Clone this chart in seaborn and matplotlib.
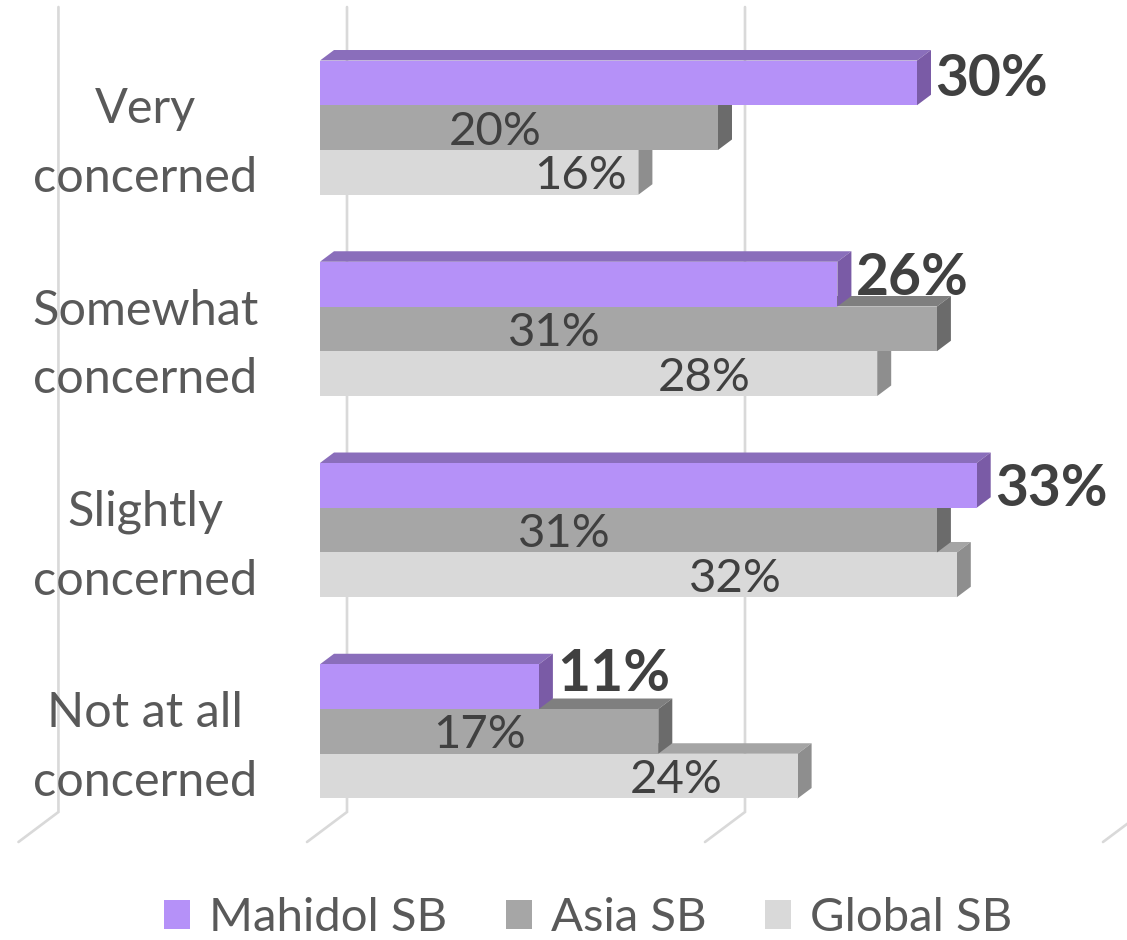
import numpy as np
import pandas as pd
import matplotlib
matplotlib.use("Agg")
import matplotlib.pyplot as plt
import matplotlib.transforms as mtransforms
from matplotlib.patches import Polygon, Patch
from matplotlib.lines import Line2D
import seaborn as sns

# ---- data -------------------------------------------------------------
categories = ["Very concerned", "Somewhat concerned",
              "Slightly concerned", "Not at all concerned"]
series = ["Mahidol SB", "Asia SB", "Global SB"]
mahidol = [30, 26, 33, 11]
asia = [20, 31, 31, 17]
global_sb = [16, 28, 32, 24]

# ---- styling / layout ---------------------------------------------------
front_colors = ["#B591F8", "#A6A6A6", "#D9D9D9"]
top_colors = ["#8A6EBB", "#7F7F7F", "#A5A5A5"]
side_colors = ["#7A5BA6", "#6B6B6B", "#8E8E8E"]
label_color = "#595959"
value_color = "#404040"
grid_color = "#D9D9D9"

# centres (in axis units) of the plain value labels for Asia / Global
asia_label_pos = [8.8, 11.8, 12.3, 8.0]
global_label_pos = [13.1, 19.3, 20.85, 17.9]
# vertical nudge (pixels, + is up) of the bold Mahidol labels
mahidol_label_nudge = [7, 9, -1, 16]

DPI = 100
W, H = 1127, 940
BAR_DX, BAR_DY = 14, 10.5          # bar depth (pixels)
WALL_DX, WALL_DY = 27, 20          # bar plane -> back wall
FLOOR_DX, FLOOR_DY = 13, 10        # bar plane -> front floor edge

sns.set_style("white")
plt.rcParams["font.family"] = ["Lato", "DejaVu Sans"]

fig = plt.figure(figsize=(W / DPI, H / DPI), dpi=DPI)
ax = fig.add_axes([320 / W, (H - 832) / H, 796 / W, (832 - 27) / H])

values = {"Mahidol SB": mahidol, "Asia SB": asia, "Global SB": global_sb}
df = pd.DataFrame([{"category": c, "series": s, "value": v}
                   for s in series for c, v in zip(categories, values[s])])

sns.barplot(data=df, x="value", y="category", hue="series",
            order=categories, hue_order=series, palette=front_colors,
            saturation=1, width=0.667, orient="h", legend=False,
            linewidth=0, ax=ax)

ax.set_xlim(0, 40)
ax.set_ylim(3.5, -0.5)
ax.set_xlabel("")
ax.set_ylabel("")
ax.set_xticks([])
ax.set_yticks([])
for s in ax.spines.values():
    s.set_visible(False)

# pixel -> data unit conversion
p0 = ax.transData.transform((0, 0))
p1 = ax.transData.transform((1, 1))
ux = p1[0] - p0[0]
uy = p1[1] - p0[1]          # negative: category axis runs downward


def shift(x, y, dx_px, dy_px):
    return (x + dx_px / ux, y + dy_px / uy)


# ---- back wall gridlines and floor edges --------------------------------
y_top, y_bot = -0.5, 3.5
for gx in [-14.5, 0, 20, 40]:
    bx_top = shift(gx, y_top, WALL_DX, WALL_DY)
    bx_bot = shift(gx, y_bot, WALL_DX, WALL_DY)
    fr_bot = shift(gx, y_bot, -FLOOR_DX, -FLOOR_DY)
    ax.add_line(Line2D([bx_top[0], bx_bot[0], fr_bot[0]],
                       [bx_top[1], bx_bot[1], fr_bot[1]],
                       color=grid_color, lw=1.9, zorder=0.5,
                       clip_on=False, solid_joinstyle="miter"))

# ---- 3-D faces for every bar -------------------------------------------
n_cat = len(categories)
for i, p in enumerate(ax.patches):
    h = i // n_cat
    x0 = p.get_x()
    x1 = x0 + p.get_width()
    yt = p.get_y()
    yb = yt + p.get_height()
    z = 10 - 3 * h
    p.set_zorder(z)
    top = [(x0, yt), (x1, yt), shift(x1, yt, BAR_DX, BAR_DY),
           shift(x0, yt, BAR_DX, BAR_DY)]
    side = [(x1, yt), (x1, yb), shift(x1, yb, BAR_DX, BAR_DY),
            shift(x1, yt, BAR_DX, BAR_DY)]
    ax.add_patch(Polygon(top, closed=True, facecolor=top_colors[h],
                         edgecolor="none", zorder=z - 1, clip_on=False))
    ax.add_patch(Polygon(side, closed=True, facecolor=side_colors[h],
                         edgecolor="none", zorder=z - 1, clip_on=False))

# ---- value labels --------------------------------------------------------
bar_w = 0.667 / 3
for ci in range(n_cat):
    # Mahidol: bold, just past the bar end
    yc = ci - bar_w
    tr = mtransforms.offset_copy(ax.transData, fig=fig,
                                 x=BAR_DX + 4,
                                 y=-20 + mahidol_label_nudge[ci],
                                 units="dots")
    ax.text(mahidol[ci], yc, f"{mahidol[ci]}%", transform=tr,
            ha="left", va="baseline", fontsize=41, fontweight="bold",
            color=value_color, zorder=20, clip_on=False)
    # Asia / Global: plain, inside the bar
    for pos, vals, yc in [(asia_label_pos, asia, ci),
                          (global_label_pos, global_sb, ci + bar_w)]:
        tr = mtransforms.offset_copy(ax.transData, fig=fig, x=0, y=-17,
                                     units="dots")
        ax.text(pos[ci], yc, f"{vals[ci]}%", transform=tr,
                ha="center", va="baseline", fontsize=34,
                color=value_color, zorder=20, clip_on=False)

# ---- category labels -----------------------------------------------------
cat_tr = mtransforms.offset_copy(
    mtransforms.blended_transform_factory(fig.transFigure, ax.transData),
    fig=fig, x=0, y=-16, units="dots")
for ci, c in enumerate(categories):
    first, last = c.rsplit(" ", 1)
    ax.text(145 / W, ci, f"{first}\n{last}", transform=cat_tr,
            ha="center", va="center", multialignment="center",
            fontsize=35, color=label_color, linespacing=1.68,
            clip_on=False)

# ---- legend ------------------------------------------------------------
handles = [Patch(facecolor=c, edgecolor="none", label=s)
           for c, s in zip(front_colors, series)]
fig.legend(handles=handles, loc="center", bbox_to_anchor=(588 / W, 22 / H),
           ncol=3, frameon=False, fontsize=34, handlelength=0.55,
           handleheight=0.55, handletextpad=0.4, columnspacing=1.25,
           labelcolor=label_color)

fig.savefig("out.png", dpi=DPI)
